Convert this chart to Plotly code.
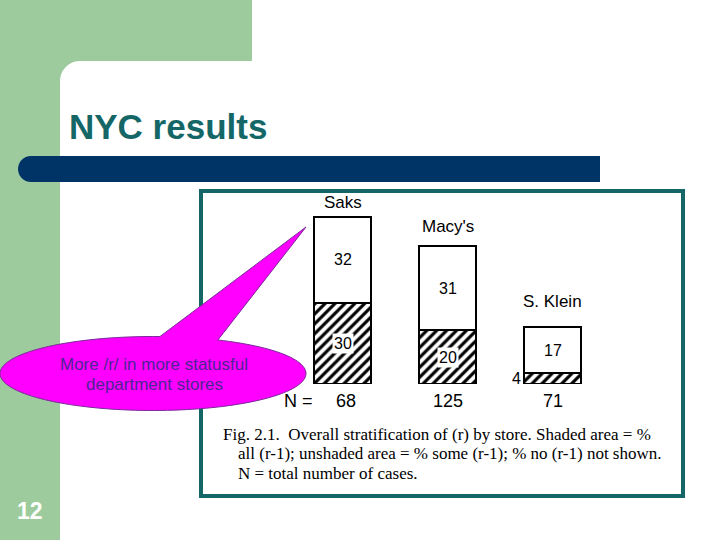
import math
import plotly.graph_objects as go

# ---------------- data ----------------
stores = ["Saks", "Macy's", "S. Klein"]
pct_all_r = [30, 20, 4]        # shaded: % all (r-1)
pct_some_r = [32, 31, 17]      # unshaded: % some (r-1)
n_cases = [68, 125, 71]

title_text = "NYC results"
callout_lines = ["More /r/ in more statusful", "department stores"]
caption_lines = [
    "Fig. 2.1.  Overall stratification of (r) by store. Shaded area = %",
    "all (r-1); unshaded area = % some (r-1); % no (r-1) not shown.",
    "N = total number of cases.",
]
slide_number = "12"

W, H = 720, 540
GREEN = "#9DCB9D"
NAVY = "#003366"
TEAL = "#156767"
MAGENTA = "#FF00FF"
PURPLE_TXT = "#4E2396"


def px(x):
    return x / W


def py(y):
    return 1 - y / H


def path(points, close=True):
    s = "M " + " L ".join(f"{px(x):.5f},{py(y):.5f}" for x, y in points)
    return s + (" Z" if close else "")


fig = go.Figure()

# bars (stacked): shaded bottom, white top
fig.add_trace(go.Bar(
    x=stores, y=pct_all_r, width=0.55,
    marker=dict(color="white", line=dict(color="black", width=2),
                pattern=dict(shape="/", fgcolor="black", bgcolor="white",
                             fgopacity=1, size=7, solidity=0.45)),
    hoverinfo="skip", showlegend=False,
))
fig.add_trace(go.Bar(
    x=stores, y=pct_some_r, width=0.55,
    marker=dict(color="white", line=dict(color="black", width=2)),
    hoverinfo="skip", showlegend=False,
))

shapes = []
# green top block and left strip
shapes.append(dict(type="rect", xref="paper", yref="paper",
                   x0=0, x1=px(252), y0=py(85), y1=1,
                   fillcolor=GREEN, line_width=0, layer="below"))
# white rounded corner
corner = [(60, 95), (60, 81)]
for i in range(1, 12):
    a = math.pi + (math.pi / 2) * i / 11
    corner.append((80 + 20 * math.cos(a), 81 + 20 * math.sin(a)))
corner += [(260, 61), (260, 95)]
shapes.append(dict(type="path", xref="paper", yref="paper", path=path(corner),
                   fillcolor="white", line_width=0, layer="below"))
shapes.append(dict(type="rect", xref="paper", yref="paper",
                   x0=0, x1=px(60), y0=0, y1=1,
                   fillcolor=GREEN, line_width=0, layer="below"))
# navy bar with rounded left end
nav = [(600, 156), (600, 182), (31, 182)]
for i in range(1, 16):
    a = math.pi / 2 + math.pi * i / 15
    nav.append((31 + 13 * math.cos(a), 169 + 13 * math.sin(a)))
shapes.append(dict(type="path", xref="paper", yref="paper", path=path(nav),
                   fillcolor=NAVY, line_width=0, layer="below"))
# figure frame
shapes.append(dict(type="rect", xref="paper", yref="paper",
                   x0=px(201), x1=px(683), y0=py(496), y1=py(191),
                   fillcolor="rgba(0,0,0,0)", line=dict(color=TEAL, width=4),
                   layer="below"))
# callout bubble (ellipse + pointer)
cx, cy, rx, ry = 153, 373.5, 153, 37
t0, t1 = math.radians(-64.9), math.radians(272.6)
pts = []
n = 140
for i in range(n + 1):
    t = t0 + (t1 - t0) * i / n
    pts.append((cx + rx * math.cos(t), cy + ry * math.sin(t)))
pts.append((306, 227))
shapes.append(dict(type="path", xref="paper", yref="paper", path=path(pts),
                   fillcolor=MAGENTA, line=dict(color="#7A2A9A", width=1),
                   layer="above"))

annotations = []
annotations.append(dict(text=f"<b>{title_text}</b>", x=px(67), y=py(126),
                        xref="paper", yref="paper", xanchor="left", yanchor="middle",
                        showarrow=False,
                        font=dict(family="Liberation Sans, Arial", size=35, color=TEAL)))
annotations.append(dict(text=f"<b>{slide_number}</b>", x=px(30), y=py(511),
                        xref="paper", yref="paper", xanchor="center", yanchor="middle",
                        showarrow=False,
                        font=dict(family="Liberation Sans, Arial", size=23, color="white")))
for i, line in enumerate(callout_lines):
    annotations.append(dict(text=line, x=px(154), y=py(364 + 21 * i),
                            xref="paper", yref="paper", xanchor="center", yanchor="middle",
                            showarrow=False,
                            font=dict(family="Liberation Sans, Arial", size=17, color=PURPLE_TXT)))
cap_pos = [(221, 434), (236, 453), (236, 473)]
for line, (x, y) in zip(caption_lines, cap_pos):
    annotations.append(dict(text=line, x=px(x), y=py(y),
                            xref="paper", yref="paper", xanchor="left", yanchor="middle",
                            showarrow=False,
                            font=dict(family="Liberation Serif, Times New Roman", size=17,
                                      color="black")))

NUMFONT = dict(family="Liberation Sans, Arial", size=16, color="black")
name_shift = [14, 20, 26]
for i, s in enumerate(stores):
    total = pct_all_r[i] + pct_some_r[i]
    annotations.append(dict(text=s, x=s, y=total, xref="x", yref="y",
                            yanchor="middle", yshift=name_shift[i], showarrow=False,
                            font=dict(family="Liberation Sans, Arial", size=17, color="black")))
    annotations.append(dict(text=str(pct_some_r[i]), x=s,
                            y=pct_all_r[i] + pct_some_r[i] / 2, xref="x", yref="y",
                            showarrow=False, font=NUMFONT))
    if pct_all_r[i] >= 10:
        annotations.append(dict(text=str(pct_all_r[i]), x=s, y=pct_all_r[i] / 2,
                                xref="x", yref="y", showarrow=False, bgcolor="white",
                                borderpad=1, font=NUMFONT))
    else:
        annotations.append(dict(text=str(pct_all_r[i]), x=s, y=pct_all_r[i] / 2,
                                xref="x", yref="y", xshift=-36, showarrow=False,
                                font=NUMFONT))
    annotations.append(dict(text=str(n_cases[i]), x=s, y=0, xref="x", yref="y",
                            yshift=-17, xshift=3 if i == 0 else 0, showarrow=False,
                            font=dict(family="Liberation Sans, Arial", size=18, color="black")))
annotations.append(dict(text="N =", x=stores[0], y=0, xref="x", yref="y",
                        xshift=-44, yshift=-17, showarrow=False,
                        font=dict(family="Liberation Sans, Arial", size=18, color="black")))

# category slots are 105 px apart, centred at 342.5 / 447.5 / 552.5 px
fig.update_layout(
    width=W, height=H, margin=dict(l=0, r=0, t=0, b=0),
    paper_bgcolor="white", plot_bgcolor="rgba(0,0,0,0)",
    barmode="stack", showlegend=False,
    xaxis=dict(domain=[px(290), px(605)], range=[-0.5, 2.5], visible=False,
               fixedrange=True),
    yaxis=dict(domain=[py(384), py(200)], range=[0, 184 / 2.7], visible=False,
               fixedrange=True),
    shapes=shapes, annotations=annotations,
)

fig.write_html("out.html", config={"displayModeBar": False},
               post_script="document.body.style.margin='0';"
                           "document.body.style.padding='0';")
